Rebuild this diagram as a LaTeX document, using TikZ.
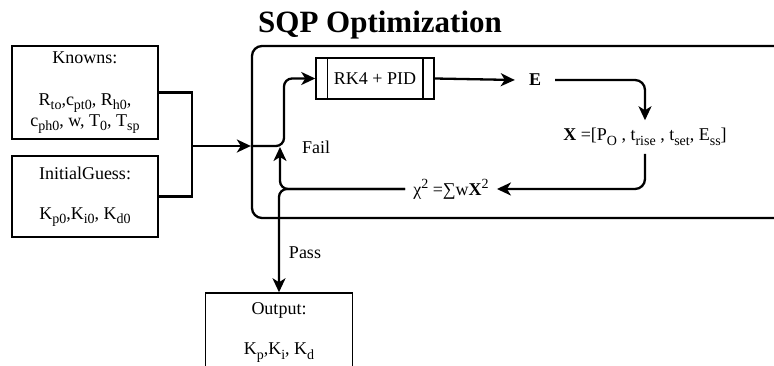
\documentclass[tikz,border=0pt]{standalone}
\usepackage{fontspec}
\setmainfont{Liberation Serif}
\usetikzlibrary{arrows.meta}
\newcommand{\lowtx}[1]{\raisebox{-4.5pt}{\fontsize{14}{14}\selectfont #1}}
\newcommand{\hightx}[1]{\raisebox{7pt}{\fontsize{14}{14}\selectfont #1}}

\begin{document}
\begin{tikzpicture}[x=1pt,y=-1pt,
    font=\fontsize{18}{21}\selectfont,
    line/.style={line width=2.3pt},
    arr/.style={line, -{Stealth[length=14pt,width=13pt,inset=4pt]}},
    box/.style={draw, line width=1.5pt, align=center, inner sep=0pt}]
        \useasboundingbox (0,0) rectangle (774,366);
        \node[font=\fontsize{31}{31}\selectfont\bfseries] (title) at (380,25) {SQP Optimization};
        \node[draw, line, rounded corners=10pt, minimum width=538pt, minimum height=172pt] (sqp) at (521,132) {};
        \node[box, minimum width=146pt, minimum height=93pt] (knowns) at (85,92.5) {Knowns:\\[21pt] R\lowtx{to},c\lowtx{pt0}, R\lowtx{h0},\\ c\lowtx{ph0}, w, T\lowtx{0}, T\lowtx{sp}};
        \node[box, minimum width=146pt, minimum height=81pt] (initial) at (85,196.5) {InitialGuess:\\[19pt] K\lowtx{p0},K\lowtx{i0}, K\lowtx{d0}};
        \node[box, minimum width=147pt, minimum height=79pt] (output) at (279,332.5) {Output:\\[19pt] K\lowtx{p},K\lowtx{i}, K\lowtx{d}};
        \node[box, minimum width=118pt, minimum height=41pt] (rk) at (375,78.5) {RK4 + PID};
        \draw[line width=1.5pt] ([xshift=12pt]rk.north west) -- ([xshift=12pt]rk.south west);
        \draw[line width=1.5pt] ([xshift=-12pt]rk.north east) -- ([xshift=-12pt]rk.south east);
        \node[inner xsep=14pt, font=\fontsize{18}{21}\selectfont\bfseries] (e) at (535,80) {E};
        \node[inner sep=8pt] (xvec) at (645,137) {\textbf{X} =[P\lowtx{O} , t\lowtx{rise} , t\lowtx{set}, E\lowtx{ss}]};
        \node[inner sep=8pt] (chi) at (451,189) {χ\hightx{2} =∑w\textbf{X}\hightx{2}};
        \node (fail) at (316,147) {Fail};
        \node (pass) at (305,253) {Pass};
        \coordinate (merge) at (192,146);
        \coordinate (entry) at (sqp.west |- merge);
        \coordinate (fork) at (280,147);
        \draw[line] (knowns.east) -| (merge);
        \draw[line] (initial.east) -| (merge);
        \draw[arr] (merge) -- (entry);
        \draw[arr, rounded corners=8pt] (entry) -- (284,146) |- (rk.west);
        \draw[arr] (rk.east) -- (e.west);
        \draw[arr, rounded corners=10pt] (e.east) -| (xvec.north);
        \draw[arr, rounded corners=10pt] (xvec.south) |- (chi.east);
        \draw[arr, rounded corners=8pt] (chi.west) -| (fork);
        \draw[arr, rounded corners=8pt] (chi.west) -| (output.north);
\end{tikzpicture}
\end{document}
